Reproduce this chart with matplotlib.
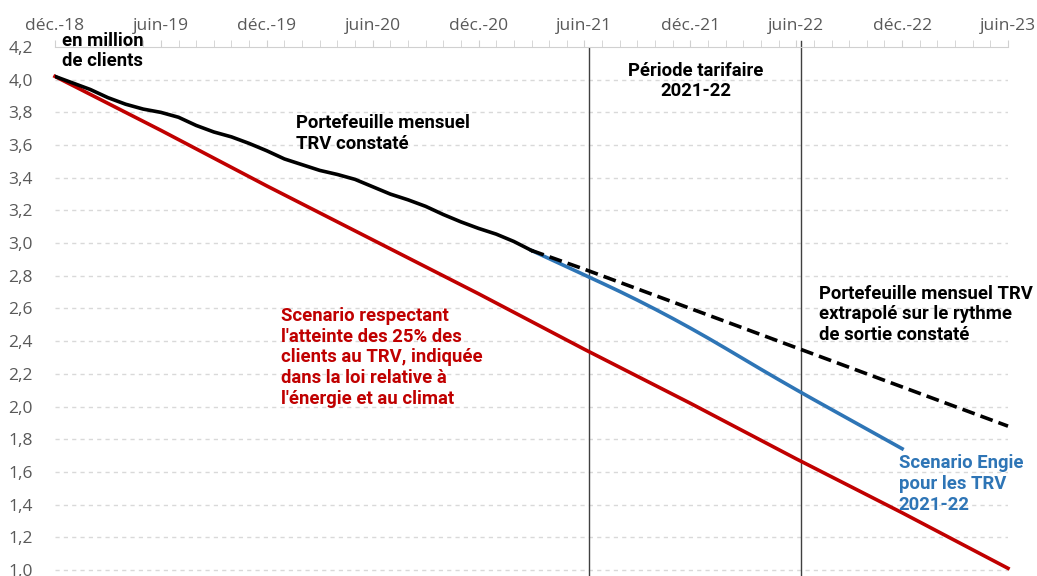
import matplotlib
matplotlib.use("Agg")
import matplotlib.pyplot as plt
from matplotlib.ticker import MultipleLocator, FixedLocator
import numpy as np

# months counted from déc.-18
tick_months = [0, 6, 12, 18, 24, 30, 36, 42, 48, 54]
tick_labels = ['déc.-18', 'juin-19', 'déc.-19', 'juin-20', 'déc.-20',
               'juin-21', 'déc.-21', 'juin-22', 'déc.-22', 'juin-23']

actual_months = list(range(0, 28))
actual_values = [4.02, 3.98, 3.94, 3.89, 3.85, 3.82, 3.80, 3.77, 3.72, 3.68,
                 3.65, 3.61, 3.565, 3.515, 3.48, 3.445, 3.42, 3.39, 3.345, 3.30,
                 3.265, 3.225, 3.175, 3.13, 3.09, 3.055, 3.01, 2.955]

extrap_months = [27, 30, 36, 42, 48, 54]
extrap_values = [2.955, 2.84, 2.60, 2.36, 2.12, 1.88]

engie_months = list(range(27, 49))
engie_values = [2.955, 2.905, 2.855, 2.805, 2.755, 2.704, 2.651, 2.596, 2.539, 2.48,
                2.419, 2.356, 2.292, 2.228, 2.165, 2.103, 2.042, 1.982, 1.922, 1.862,
                1.802, 1.742]

loi_months = [0, 6, 12, 18, 24, 30, 36, 42, 48, 54]
loi_values = [4.02, 3.69, 3.35, 3.02, 2.69, 2.35, 2.02, 1.68, 1.35, 1.01]

tariff_bounds = [30.25, 42.25]

plt.rcParams['font.family'] = ['Roboto', 'DejaVu Sans']

RED = '#C00000'
BLUE = '#2E75B6'
GREY = '#595959'

fig = plt.figure(figsize=(10.37, 5.76), dpi=100)
ax = fig.add_axes([55 / 1037, 0, (1008 - 55) / 1037, 1 - 47 / 576])

ax.set_xlim(0, 54)
ax.set_ylim(0.963, 4.2)

# gridlines
for v in np.arange(1.0, 4.01, 0.2):
    ax.axhline(v, color='#d9d9d9', lw=1, ls=(0, (3, 3)), zorder=0)

ax.axvline(tariff_bounds[0], color='#404040', lw=1, zorder=1)
ax.axvline(tariff_bounds[1], ymax=1.012, color='#404040', lw=1, zorder=1, clip_on=False)

ax.plot(loi_months, loi_values, color=RED, lw=2.6, zorder=3, clip_on=False)
ax.plot(engie_months, engie_values, color=BLUE, lw=2.6, zorder=3)
ax.plot(extrap_months, extrap_values, color='black', lw=2.6,
        dashes=(3.6, 1.7), zorder=4, clip_on=False)
ax.plot(actual_months, actual_values, color='black', lw=2.6, zorder=4)

# axes styling
for s in ['left', 'right', 'bottom']:
    ax.spines[s].set_visible(False)
ax.spines['top'].set_color('#d0d0d0')
ax.xaxis.tick_top()
ax.xaxis.set_major_locator(FixedLocator(tick_months))
ax.set_xticklabels(tick_labels, fontfamily=['Open Sans', 'DejaVu Sans'])
ax.xaxis.set_minor_locator(MultipleLocator(1))
ax.tick_params(axis='x', which='both', direction='out', length=5,
               color='#d0d0d0', labelcolor=GREY, labelsize=12.5, pad=4)
yvals = np.arange(1.0, 4.21, 0.2)
ax.set_yticks(yvals)
ax.set_yticklabels([f'{v:.1f}'.replace('.', ',') for v in yvals],
                   fontfamily=['Open Sans', 'DejaVu Sans'])
ax.tick_params(axis='y', length=0, labelcolor=GREY, labelsize=12.5, pad=16)

# annotations
fs = 13.3
ax.text(0.4, 4.175, 'en million\nde clients', fontsize=fs, fontweight='bold',
        ha='left', va='center', linespacing=1.2)
ax.text(13.67, 3.671, 'Portefeuille mensuel\nTRV constaté', fontsize=fs,
        fontweight='bold', ha='left', va='center', linespacing=1.2)
ax.text(36.3, 3.992, 'Période tarifaire\n2021-22', fontsize=fs,
        fontweight='bold', ha='center', va='center', linespacing=1.2)
ax.text(43.28, 2.564, 'Portefeuille mensuel TRV\nextrapolé sur le rythme\nde sortie constaté',
        fontsize=fs, fontweight='bold', ha='left', va='center', linespacing=1.2)
ax.text(12.82, 2.301, "Scenario respectant\nl'atteinte des 25% des\nclients au TRV, indiquée\n"
        "dans la loi relative à\nl'énergie et au climat", color=RED, fontsize=fs,
        fontweight='bold', ha='left', va='center', linespacing=1.2)
ax.text(47.8, 1.527, 'Scenario Engie\npour les TRV\n2021-22', color=BLUE, fontsize=fs,
        fontweight='bold', ha='left', va='center', linespacing=1.2)

fig.savefig('out.png', dpi=100)
plt.close(fig)
